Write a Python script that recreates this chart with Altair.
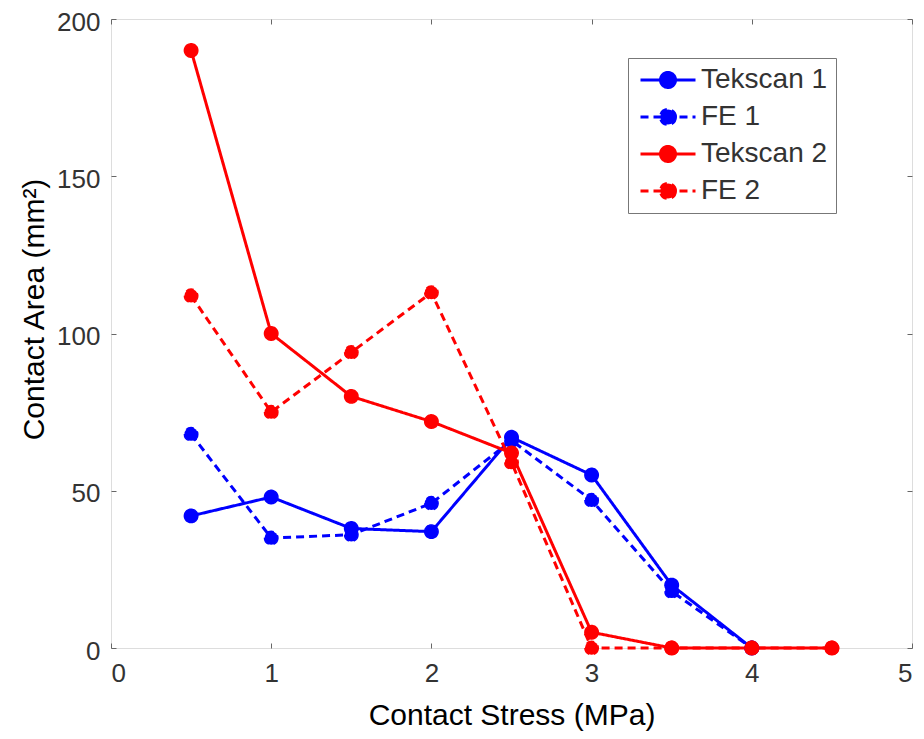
import altair as alt
import pandas as pd

# ---- data ----
stress = [0.5, 1.0, 1.5, 2.0, 2.5, 3.0, 3.5, 4.0, 4.5]
tekscan1 = [42, 48, 38, 37, 67, 55, 20, 0]
fe1 = [68, 35, 36, 46, 66, 47, 18, 0]
tekscan2 = [190, 100, 80, 72, 62, 5, 0, 0, 0]
fe2 = [112, 75, 94, 113, 59, 0, 0, 0, 0]

series_names = ["Tekscan 1", "FE 1", "Tekscan 2", "FE 2"]
series_values = [tekscan1, fe1, tekscan2, fe2]
series_colors = ["#0000ff", "#0000ff", "#ff0000", "#ff0000"]
series_dash = [[1, 0], [8, 5], [1, 0], [8, 5]]

x_ticks = [0, 1, 2, 3, 4, 5]
y_ticks = [0, 50, 100, 150, 200]

rows = []
for s_idx, (name, vals) in enumerate(zip(series_names, series_values)):
    for i, v in enumerate(vals):
        rows.append({"series": name, "sidx": s_idx, "stress": stress[i], "area": v, "order": i})
df = pd.DataFrame(rows)

FONT = "Liberation Sans"
AXIS_GRAY = "#666666"

x_scale = alt.Scale(domain=[0, 5], nice=False, zero=False)
y_scale = alt.Scale(domain=[0, 200], nice=False)
color_scale = alt.Scale(domain=series_names, range=series_colors)
dash_scale = alt.Scale(domain=series_names, range=series_dash)

common_axis = dict(offset=-5, tickSize=5, tickColor=AXIS_GRAY, tickWidth=1,
                   domain=False, grid=False, labelFont=FONT, labelFontSize=26,
                   labelColor="#333333", titleFont=FONT, titleFontSize=30,
                   titleFontWeight="normal", titleColor="#000000")

x_bottom = alt.X("stress:Q", scale=x_scale,
                 axis=alt.Axis(orient="bottom", values=x_ticks, labelPadding=12,
                               title="Contact Stress (MPa)", titlePadding=14, **common_axis))
y_left = alt.Y("area:Q", scale=y_scale,
               axis=alt.Axis(orient="left", values=y_ticks, labelPadding=11, labelOffset=3,
                             title="Contact Area (mm²)", titlePadding=7, titleY=290,
                             **common_axis))
x_top = alt.X("stress:Q", scale=x_scale,
              axis=alt.Axis(orient="top", values=x_ticks, labels=False, title=None, **common_axis))
y_right = alt.Y("area:Q", scale=y_scale,
                axis=alt.Axis(orient="right", values=y_ticks, labels=False, title=None, **common_axis))

legend_symbol = "M-2.75,0L2.75,0M0.75,0A0.75,0.75 0 1,1 -0.75,0A0.75,0.75 0 1,1 0.75,0Z"
legend_def = alt.Legend(
    title=None, orient="none", legendX=517, legendY=39,
    symbolType=legend_symbol, symbolSize=400, symbolStrokeWidth=3,
    symbolOffset=18, labelOffset=19,
    labelFont=FONT, labelFontSize=28, labelColor="#333333",
    strokeColor="#777777", fillColor="white", padding=8, rowPadding=9,
)

base = alt.Chart(df)

lines = base.mark_line(strokeWidth=3).encode(
    x=x_bottom, y=y_left,
    color=alt.Color("series:N", scale=color_scale, legend=legend_def),
    strokeDash=alt.StrokeDash("series:N", scale=dash_scale, legend=legend_def),
    detail="sidx:N",
    order="order:Q",
)

points = base.mark_point(filled=True, size=180, opacity=1, strokeWidth=1.5).encode(
    x=x_top,
    y=y_right,
    color=alt.Color("series:N", scale=color_scale, legend=legend_def),
    stroke=alt.Stroke("series:N", scale=color_scale, legend=legend_def),
    strokeDash=alt.StrokeDash("series:N", scale=dash_scale, legend=legend_def),
)

chart = alt.layer(lines, points).properties(
    width=801, height=629,
    autosize=alt.AutoSizeParams(type="none"),
    padding={"left": 103, "top": 11, "right": 4, "bottom": 83},
).configure_view(
    stroke=AXIS_GRAY, strokeWidth=1.5
).configure(background="white")

chart.save("out.html", embed_options={"renderer": "svg", "actions": False})
